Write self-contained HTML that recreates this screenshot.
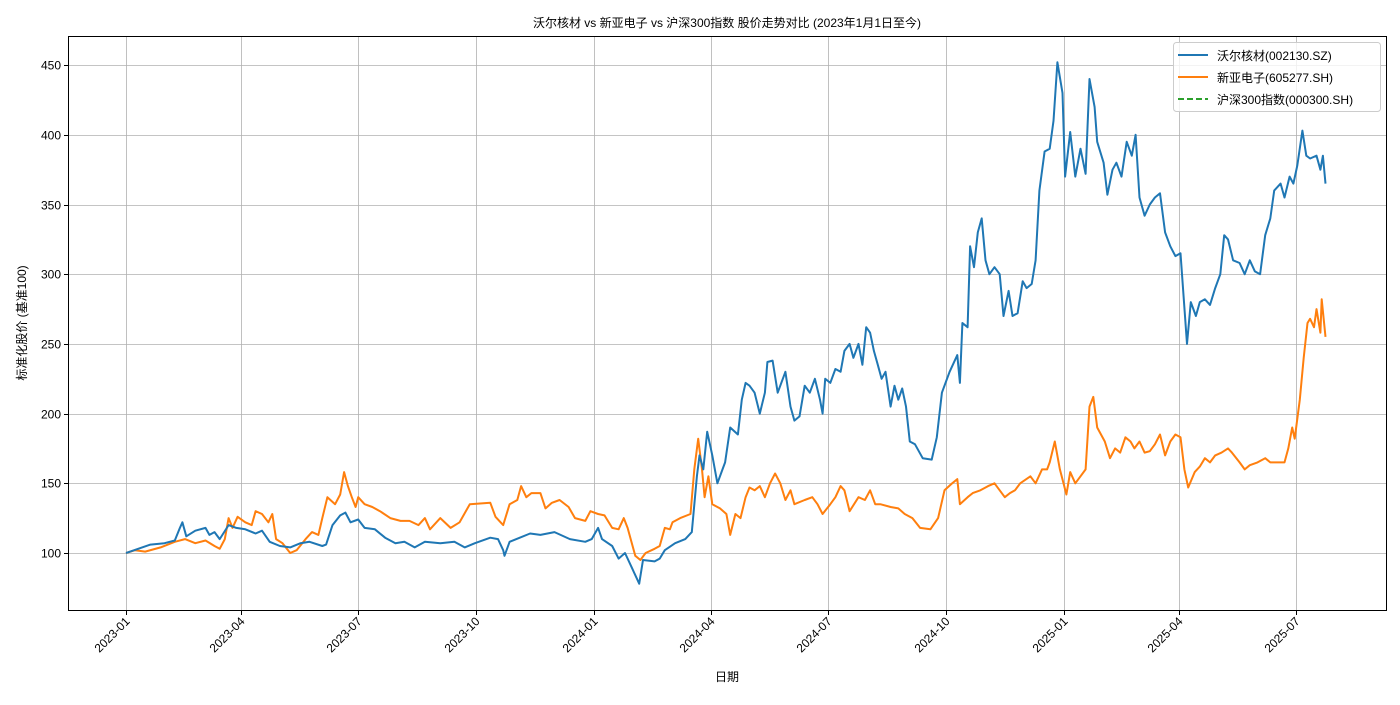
<!DOCTYPE html>
<html><head><meta charset="utf-8"><style>
html,body{margin:0;padding:0;background:#fff;}
svg text{font-family:"Liberation Sans","Noto Sans CJK SC",sans-serif;font-size:12px;fill:#000;}
</style></head><body>
<svg id="chart" width="1400" height="700" xmlns="http://www.w3.org/2000/svg">
<rect width="1400" height="700" fill="#fff"/>
<text x="727" y="27" text-anchor="middle">沃尔核材 vs 新亚电子 vs 沪深300指数 股价走势对比 (2023年1月1日至今)</text>
<g id="grid"></g>
<g id="series"></g>
<rect x="68.5" y="36.5" width="1318" height="574" fill="none" stroke="#000" stroke-width="1"/>
<g id="axes"></g>
<text x="727" y="681" text-anchor="middle">日期</text>
<text transform="translate(26,323) rotate(-90)" text-anchor="middle">标准化股价 (基准100)</text>
<g>
<rect x="1173.5" y="42.5" width="207" height="69" rx="3" fill="#fff" fill-opacity="0.8" stroke="#ccc"/>
<line x1="1178" y1="55" x2="1208" y2="55" stroke="#1f77b4" stroke-width="2"/>
<text x="1217" y="60">沃尔核材(002130.SZ)</text>
<line x1="1178" y1="77" x2="1208" y2="77" stroke="#ff7f0e" stroke-width="2"/>
<text x="1217" y="82">新亚电子(605277.SH)</text>
<line x1="1178" y1="99" x2="1208" y2="99" stroke="#2ca02c" stroke-width="2" stroke-dasharray="6,3"/>
<text x="1217" y="104">沪深300指数(000300.SH)</text>
</g>
</svg>
<script>
// days since 2023-01-01 and normalized values
const blueDays=[0,19,30,38,42,44,47,54,62,65,69,73,80,86,93,101,106,112,120,128,136,143,153,156,161,167,171,175,181,186,194,202,210,217,225,233,245,256,264,272,284,290,294,295,299,307,315,323,334,346,358,363,368,371,379,384,389,394,400,403,412,416,420,428,436,441,445,447,450,453,457,461,465,467,471,477,480,483,486,490,494,498,500,504,508,514,518,521,525,529,533,537,541,543,545,549,553,557,560,564,567,571,574,577,580,583,586,589,592,596,599,602,605,608,611,615,621,628,632,636,642,648,650,652,656,658,661,664,667,670,673,677,681,684,688,691,695,699,702,706,709,712,716,720,723,726,730,732,736,740,744,748,751,755,757,762,765,769,772,776,780,784,787,790,794,798,802,806,810,814,818,822,827,830,834,837,841,845,849,853,856,859,863,868,872,876,880,884,888,892,895,900,903,907,910,913,917,920,923,928,931,933,935];
const blueVals=[100,106,107,109,118,122,112,116,118,113,115,110,120,118,117,114,116,108,105,104,107,108,105,106,120,127,129,122,124,118,117,111,107,108,104,108,107,108,104,107,111,110,102,98,108,111,114,113,115,110,108,110,118,110,105,96,100,90,78,95,94,96,102,107,110,115,155,170,160,187,170,150,160,165,190,185,210,222,220,215,200,215,237,238,215,230,205,195,198,220,215,225,210,200,225,222,232,230,245,250,240,250,235,262,258,245,235,225,230,205,220,210,218,205,180,178,168,167,183,215,230,242,222,265,262,320,305,330,340,310,300,305,300,270,288,270,272,295,290,293,310,360,388,390,410,452,430,370,402,370,390,372,440,420,395,380,357,375,380,370,395,385,400,355,342,350,355,358,330,320,313,315,250,280,270,280,282,278,290,300,328,325,310,308,300,310,302,300,328,340,360,365,355,370,365,378,403,385,383,385,375,385,365];
const orangeDays=[0,7,15,27,38,46,54,62,69,73,77,80,83,87,93,98,101,106,111,114,117,122,128,133,140,145,150,153,157,163,167,170,173,176,179,181,186,192,198,206,214,221,228,233,237,245,253,260,268,284,288,292,294,299,305,308,312,316,323,327,332,338,345,350,358,362,368,373,379,384,388,391,397,401,405,412,416,420,424,426,432,440,443,446,449,451,454,457,463,468,471,475,479,483,486,490,494,498,502,506,510,514,518,521,529,535,539,543,549,553,557,560,564,571,576,580,584,588,596,602,607,613,619,627,633,638,644,648,650,656,660,666,672,677,681,685,689,693,697,705,709,714,718,720,724,728,733,736,740,744,748,751,754,757,763,767,771,775,779,783,786,790,794,798,802,806,810,814,818,822,825,828,833,837,841,845,849,854,859,862,868,872,876,882,888,892,898,903,906,909,911,915,918,921,923,926,928,931,932,935];
const orangeVals=[100,102,101,104,108,110,107,109,105,103,110,125,118,126,122,120,130,128,122,128,110,107,100,102,110,115,113,125,140,135,142,158,148,140,133,140,135,133,130,125,123,123,120,125,117,125,118,122,135,136,126,122,120,135,138,148,140,143,143,132,136,138,133,125,123,130,128,127,118,117,125,118,98,95,100,103,105,118,117,122,125,128,160,182,160,140,155,135,132,128,113,128,125,140,147,145,148,140,150,157,150,138,145,135,138,140,135,128,135,140,148,145,130,140,138,145,135,135,133,132,128,125,118,117,125,145,150,153,135,140,143,145,148,150,145,140,143,145,150,155,150,160,160,165,180,160,142,158,150,155,160,205,212,190,180,168,175,172,183,180,175,180,172,173,178,185,170,180,185,183,160,147,158,162,168,165,170,172,175,172,165,160,163,165,168,165,165,165,175,190,182,210,240,265,268,262,275,258,282,255];
const yTicks=[100,150,200,250,300,350,400,450];
const xTickLabels=["2023-01","2023-04","2023-07","2023-10","2024-01","2024-04","2024-07","2024-10","2025-01","2025-04","2025-07"];

const NS="http://www.w3.org/2000/svg";
const X0=126, PXD=1170/912;
function dayOf(lbl){const [y,m]=lbl.split("-").map(Number);return (Date.UTC(y,m-1,1)-Date.UTC(2023,0,1))/86400000;}
function xs(d){return X0+d*PXD;}
function ys(v){return 553-(v-100)*1.394;}
function mk(tag,attrs,parent){const e=document.createElementNS(NS,tag);for(const k in attrs)e.setAttribute(k,attrs[k]);parent.appendChild(e);return e;}
const grid=document.getElementById("grid"),axes=document.getElementById("axes"),ser=document.getElementById("series");
yTicks.forEach(v=>{const y=Math.round(ys(v))+0.5;
 const g=mk("line",{x1:69,x2:1386,y1:y,y2:y,stroke:"#b0b0b0","stroke-width":0.8},grid);
 
 
 mk("line",{x1:64,x2:68,y1:y,y2:y,stroke:"#000"},axes);
 const t=mk("text",{x:61,y:y+4,"text-anchor":"end"},axes);t.textContent=v;
 
 
});
xTickLabels.forEach(l=>{const x=Math.round(xs(dayOf(l)))+0.5;
 const g=mk("line",{x1:x,x2:x,y1:37,y2:610,stroke:"#b0b0b0","stroke-width":0.8},grid);
 
 
 mk("line",{x1:x,x2:x,y1:611,y2:615,stroke:"#000"},axes);
 const t=mk("text",{transform:`translate(${x+4},${622}) rotate(-45)`,"text-anchor":"end"},axes);t.textContent=l;
 
 
});
function line(days,vals,color,name){
 const p=mk("polyline",{points:days.map((d,i)=>xs(d).toFixed(1)+","+ys(vals[i]).toFixed(1)).join(" "),fill:"none",stroke:color,"stroke-width":2,"stroke-linejoin":"round"},ser);
 
 
}
line(orangeDays,orangeVals,"#ff7f0e","line-xinya");
line(blueDays,blueVals,"#1f77b4","line-wolkern");
</script>
</body></html>
